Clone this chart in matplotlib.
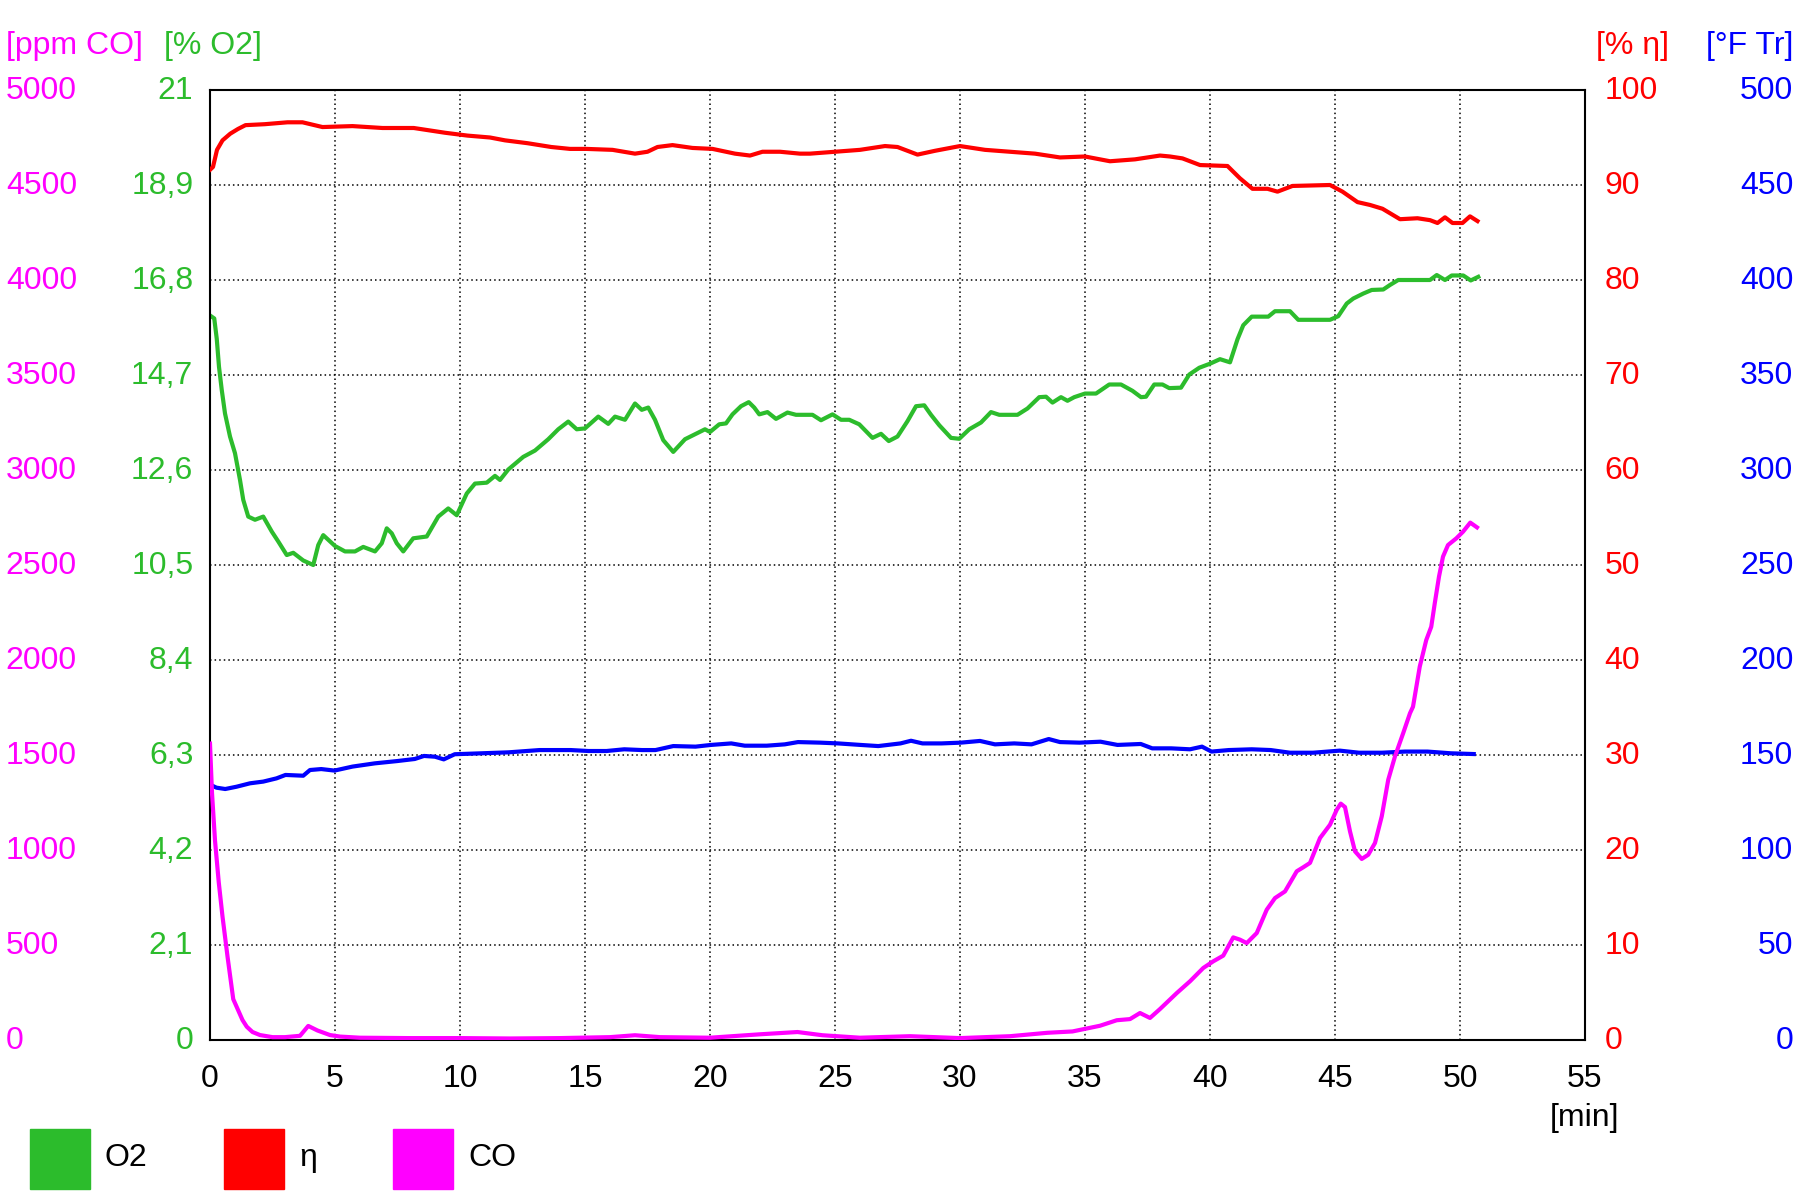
import matplotlib
matplotlib.use("Agg")
import matplotlib.pyplot as plt
import matplotlib.transforms as mtransforms
from matplotlib.patches import Rectangle

plt.rcParams['font.family'] = ['Liberation Sans', 'DejaVu Sans']

# ---- data (time in minutes) ----
eta_t = [0, 0.12, 0.28, 0.5, 0.81, 1.12, 1.42, 2.19, 3.1, 3.7, 4.5, 5.7, 6.9, 8.15, 9.4,
         10.3, 11.2, 11.8, 12.7, 13.65, 14.4, 15.05, 16.1, 17.0, 17.5, 17.9, 18.5, 19.3,
         20.1, 21.0, 21.6, 22.1, 22.8, 23.6, 24, 25, 26, 27, 27.5, 28.3, 29, 30, 31, 32,
         33, 34, 35, 36, 37, 38, 38.4, 38.9, 39.6, 40.7, 41.2, 41.7, 42.3, 42.7, 43.3,
         44.8, 45.3, 45.9, 46.4, 46.9, 47.6, 48.3, 48.8, 49.1, 49.4, 49.7, 50.1, 50.4, 50.7]
eta = [91.6, 91.9, 93.7, 94.7, 95.4, 95.9, 96.3, 96.4, 96.6, 96.6, 96.1, 96.2, 96.0, 96.0, 95.5,
       95.2, 95.0, 94.7, 94.4, 94.0, 93.8, 93.8, 93.7, 93.3, 93.5, 94.0, 94.2, 93.9,
       93.8, 93.3, 93.1, 93.5, 93.5, 93.3, 93.3, 93.5, 93.7, 94.1, 94.0, 93.2, 93.6, 94.1, 93.7, 93.5,
       93.3, 92.9, 93.0, 92.5, 92.7, 93.1, 93.0, 92.8, 92.1, 92.0, 90.7, 89.6, 89.6, 89.3, 89.9,
       90.0, 89.3, 88.2, 87.9, 87.5, 86.4, 86.5, 86.3, 86.0, 86.6, 86.0, 86.0, 86.7, 86.2]

o2_t = [0.04, 0.17, 0.27, 0.36, 0.47, 0.6, 0.8, 1.0, 1.2, 1.33, 1.53, 1.8, 2.13, 2.47, 2.73,
        3.07, 3.33, 3.73, 4.13, 4.33, 4.53, 5.0, 5.4, 5.8, 6.13, 6.6, 6.87, 7.07, 7.27, 7.47,
        7.73, 8.13, 8.67, 9.13, 9.53, 9.87, 10.27, 10.6, 11.07, 11.4, 11.6, 11.93, 12.53, 13.0,
        13.53, 13.93, 14.33, 14.67, 15.0, 15.53, 15.93, 16.2, 16.6, 17.0, 17.27, 17.53, 17.8,
        18.13, 18.53, 19.0, 19.4, 19.8, 20.0, 20.37, 20.64, 20.9, 21.24, 21.55, 21.77, 21.97,
        22.3, 22.64, 23.1, 23.44, 24.1, 24.44, 24.9, 25.24, 25.57, 25.97, 26.5, 26.84, 27.15,
        27.5, 27.9, 28.24, 28.57, 28.84, 29.17, 29.64, 29.97, 30.37, 30.84, 31.24, 31.57, 32.3,
        32.7, 33.17, 33.44, 33.7, 34.04, 34.3, 34.57, 35.0, 35.44, 35.97, 36.44, 36.9, 37.24,
        37.44, 37.77, 38.1, 38.37, 38.84, 39.17, 39.57, 40.0, 40.4, 40.8, 41.1, 41.33, 41.67,
        42.33, 42.6, 43.2, 43.53, 44.8, 45.13, 45.47, 45.73, 46.13, 46.47, 46.93, 47.2, 47.53,
        48.8, 49.07, 49.4, 49.67, 50.13, 50.43, 50.73]
o2 = [16.0, 15.95, 15.5, 14.88, 14.37, 13.85, 13.34, 12.97, 12.38, 11.94, 11.57, 11.5, 11.57,
      11.24, 11.02, 10.72, 10.77, 10.6, 10.5, 10.94, 11.16, 10.92, 10.8, 10.8, 10.9, 10.8,
      10.98, 11.31, 11.2, 10.98, 10.8, 11.09, 11.13, 11.57, 11.75, 11.6, 12.08, 12.3, 12.32,
      12.47, 12.38, 12.61, 12.89, 13.03, 13.28, 13.5, 13.67, 13.5, 13.52, 13.78, 13.62, 13.78,
      13.71, 14.07, 13.93, 13.98, 13.71, 13.26, 13.0, 13.28, 13.39, 13.5, 13.44, 13.61, 13.63,
      13.83, 14.01, 14.1, 13.98, 13.83, 13.88, 13.73, 13.87, 13.82, 13.82, 13.7, 13.83, 13.71,
      13.71, 13.61, 13.31, 13.4, 13.24, 13.34, 13.68, 14.01, 14.03, 13.82, 13.59, 13.31, 13.29,
      13.5, 13.65, 13.88, 13.82, 13.82, 13.96, 14.21, 14.22, 14.09, 14.21, 14.13, 14.21, 14.29,
      14.29, 14.49, 14.49, 14.35, 14.21, 14.22, 14.49, 14.49, 14.41, 14.42, 14.71, 14.86, 14.95,
      15.05, 14.98, 15.49, 15.8, 15.99, 15.99, 16.11, 16.11, 15.92, 15.92, 16.0, 16.28, 16.39,
      16.5, 16.58, 16.59, 16.69, 16.8, 16.8, 16.91, 16.8, 16.9, 16.9, 16.79, 16.87]

co_t = [0, 0.08, 0.2, 0.35, 0.5, 0.7, 0.93, 1.3, 1.47, 1.7, 2.0, 2.5, 3.0, 3.6, 3.93, 4.3, 4.8,
        5.2, 6, 8, 10, 12, 14, 16, 17, 18, 20, 22, 23.5, 24.5, 26, 28, 30, 32, 33.5, 34.5,
        35.6, 36.27, 36.8, 37.2, 37.6, 38.0, 38.67, 39.2, 39.73, 40.13, 40.53, 40.93, 41.2,
        41.47, 41.87, 42.27, 42.6, 43.0, 43.47, 43.73, 44.0, 44.4, 44.8, 45.07, 45.23, 45.4,
        45.6, 45.8, 46.07, 46.33, 46.6, 46.87, 47.13, 47.4, 47.73, 48.0, 48.12, 48.39, 48.65,
        48.85, 48.99, 49.16, 49.32, 49.52, 49.85, 50.12, 50.41, 50.68]
co = [1560, 1300, 1050, 830, 650, 440, 215, 105, 70, 42, 26, 15, 15, 22, 74, 50, 26,
      18, 12, 10, 10, 8, 10, 15, 25, 15, 12, 30, 42, 25, 12, 20, 10, 20, 38, 45,
      75, 104, 110, 142, 116, 163, 247, 309, 379, 414, 444, 540, 528,
      510, 563, 686, 747, 782, 888, 909, 932, 1063, 1133, 1212, 1244, 1226,
      1098, 993, 953, 975, 1037, 1177, 1370, 1493, 1616, 1720, 1754, 1965, 2105,
      2175, 2298, 2439, 2544, 2605, 2640, 2675, 2723, 2698]

tr_t = [0.03, 0.26, 0.61, 1.06, 1.6, 2.13, 2.66, 3.02, 3.73, 4.0, 4.45, 4.98, 5.7, 6.59, 7.48,
        8.19, 8.56, 9.0, 9.35, 9.79, 10.87, 11.94, 13.18, 14.43, 15.14, 15.86, 16.57, 17.28,
        17.82, 18.53, 19.42, 20.04, 20.85, 21.39, 22.27, 22.99, 23.52, 24.41, 25.12, 26.02,
        26.73, 27.62, 28.04, 28.5, 29.26, 30.03, 30.8, 31.4, 32.17, 32.86, 33.55, 34.0, 34.78,
        35.62, 36.3, 37.23, 37.69, 38.45, 39.2, 39.68, 40.06, 40.75, 41.67, 42.43, 43.2, 44.12,
        45.19, 45.96, 46.88, 47.8, 48.7, 49.63, 50.55]
tr = [134.2, 132.8, 132.1, 133.3, 135.1, 136, 137.7, 139.5, 139.1, 142.1, 142.6, 141.8, 143.9,
      145.6, 146.8, 147.9, 149.5, 149.1, 147.7, 150.4, 150.9, 151.4, 152.6, 152.6, 152.1, 152.1,
      153, 152.6, 152.6, 154.7, 154.4, 155.3, 156.1, 154.9, 154.9, 155.6, 156.8, 156.5, 156.1,
      155.3, 154.7, 156.1, 157.5, 156.1, 156.1, 156.5, 157.4, 155.6, 156.1, 155.6, 158.4, 156.8,
      156.5, 157, 155.3, 155.8, 153.5, 153.5, 153, 154.4, 151.8, 152.6, 153, 152.6, 151.2, 151.2,
      152.3, 151.2, 151.2, 151.8, 151.8, 150.9, 150.5]

x_ticks = [0, 5, 10, 15, 20, 25, 30, 35, 40, 45, 50, 55]
co_ticks = [0, 500, 1000, 1500, 2000, 2500, 3000, 3500, 4000, 4500, 5000]
o2_ticks = [0, 2.1, 4.2, 6.3, 8.4, 10.5, 12.6, 14.7, 16.8, 18.9, 21]
o2_labels = ["0", "2,1", "4,2", "6,3", "8,4", "10,5", "12,6", "14,7", "16,8", "18,9", "21"]
eta_ticks = [0, 10, 20, 30, 40, 50, 60, 70, 80, 90, 100]
tr_ticks = [0, 50, 100, 150, 200, 250, 300, 350, 400, 450, 500]

GREEN = '#2cbc2c'
RED = '#ff0000'
MAG = '#ff00ff'
BLUE = '#0000ff'
FS = 23
LW = 3.0

fig = plt.figure(figsize=(18, 12), dpi=100)
ax = fig.add_axes([210/1800, 160/1200, 1375/1800, 950/1200])
# twins are drawn in creation order: temperature first, CO last (on top)
ax_tr = ax.twinx()
ax_eta = ax.twinx()
ax_co = ax.twinx()

ax.set_xlim(0, 55)
ax.set_ylim(0, 21)
ax_co.set_ylim(0, 5000)
ax_eta.set_ylim(0, 100)
ax_tr.set_ylim(0, 500)

ax.grid(True, color='black', linestyle=(0, (1, 2)), linewidth=1.1)
for s in ax.spines.values():
    s.set_linewidth(1.5)
for a in (ax_co, ax_eta, ax_tr):
    a.set_frame_on(False)

ax.set_xticks(x_ticks)
ax.set_xticklabels([str(v) for v in x_ticks])
ax.tick_params(axis='x', length=0, pad=17, labelsize=FS, labelcolor='black')

# O2 axis: left, right-aligned labels next to frame
ax.set_yticks(o2_ticks)
ax.set_yticklabels(o2_labels)
ax.tick_params(axis='y', length=0, pad=12, labelsize=FS, labelcolor=GREEN)

# CO axis: far left, left-aligned labels
ax_co.yaxis.set_ticks_position('left')
ax_co.yaxis.set_label_position('left')
ax_co.set_yticks(co_ticks)
ax_co.set_yticklabels([str(v) for v in co_ticks], ha='left')
ax_co.tick_params(axis='y', length=0, pad=147, labelsize=FS, labelcolor=MAG)

# efficiency axis: right, left-aligned
ax_eta.set_yticks(eta_ticks)
ax_eta.set_yticklabels([str(v) for v in eta_ticks])
ax_eta.tick_params(axis='y', length=0, pad=14, labelsize=FS, labelcolor=RED)

# flue temperature axis: far right, right-aligned
ax_tr.set_yticks(tr_ticks)
ax_tr.set_yticklabels([str(v) for v in tr_ticks], ha='right')
ax_tr.tick_params(axis='y', length=0, pad=150, labelsize=FS, labelcolor=BLUE)

# nudge the y tick labels up a little
up = mtransforms.ScaledTranslation(0, 2.5/100, fig.dpi_scale_trans)
for a in (ax, ax_co, ax_eta, ax_tr):
    for lab in a.get_yticklabels():
        lab.set_transform(lab.get_transform() + up)

ax.plot(o2_t, o2, color=GREEN, linewidth=LW)
ax_eta.plot(eta_t, eta, color=RED, linewidth=LW)
ax_tr.plot(tr_t, tr, color=BLUE, linewidth=LW)
ax_co.plot(co_t, co, color=MAG, linewidth=LW)

# unit headers
def ftext(xp, yp, s, color, ha='left'):
    fig.text(xp/1800, 1 - yp/1200, s, color=color, fontsize=FS, ha=ha, va='center')

ftext(6, 46, "[ppm CO]", MAG)
ftext(164, 46, "[% O2]", GREEN)
ftext(1596, 46, "[% η]", RED)
ftext(1793, 46, "[°F Tr]", BLUE, ha='right')
ftext(1584, 1118, "[min]", 'black', ha='center')

# legend
for xl, col, lab in [(30, GREEN, "O2"), (224, RED, "η"), (393, MAG, "CO")]:
    fig.patches.append(Rectangle((xl/1800, 1 - 1189/1200), 60/1800, 60/1200,
                                 transform=fig.transFigure, color=col))
    ftext(xl + 75, 1158, lab, 'black')

fig.savefig("out.png", dpi=100)
